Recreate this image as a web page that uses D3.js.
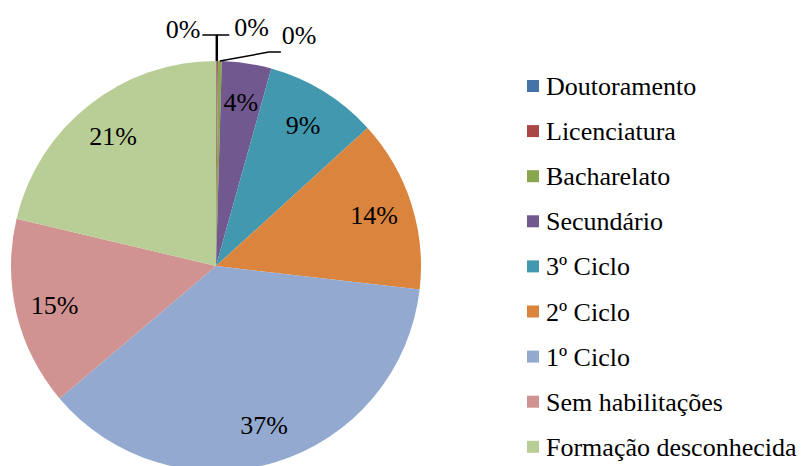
<!DOCTYPE html>
<html>
<head>
<meta charset="UTF-8">
<title>Habilitações</title>
<script src="https://d3js.org/d3.v7.min.js"></script>
</head>
<body style="margin:0">
<div id="chart"></div>
<script>
    const categories = ["Doutoramento", "Licenciatura", "Bacharelato", "Secundário",
      "3º Ciclo", "2º Ciclo", "1º Ciclo", "Sem habilitações", "Formação desconhecida"];
    const values = [0.05, 0.1, 0.3, 3.9, 8.9, 13.6, 37.0, 14.9, 21.3];
    const colors = ["#4572A7", "#AA4643", "#89A54E", "#71588F", "#4198AF",
      "#DB843D", "#93A9CF", "#D19392", "#B9CD96"];

    // leader offsets for the tiny slices (relative to the slice's outer point)
    const leaders = {
      "Doutoramento": { bx: 0, by: -26, ex: -14, tx: -16, ty: 3, anchor: "end" },
      "Licenciatura": { bx: 0, by: -26, ex: 12, tx: 17, ty: 1, anchor: "start" },
      "Bacharelato":  { bx: 49, by: -9, ex: 61, tx: 62, ty: -8, anchor: "start" }
    };

    const cx = 216, cy = 266, r = 205;
    const fam = '"Liberation Serif", "Times New Roman", serif';

    const svg = d3.select("#chart").append("svg")
      .attr("width", 806).attr("height", 466);

    const total = d3.sum(values);
    const data = categories.map((c, i) => ({ name: c, value: values[i], color: colors[i] }));

    const pie = d3.pie().sort(null).value(d => d.value);
    const arcs = pie(data);
    const arc = d3.arc().innerRadius(0).outerRadius(r);
    const labelArc = d3.arc().innerRadius(r * 0.81).outerRadius(r * 0.81);

    svg.selectAll("path.slice")
      .data(arcs)
      .enter().append("path")
      .attr("class", "slice")
      .attr("transform", `translate(${cx},${cy})`)
      .attr("d", arc)
      .attr("fill", d => d.data.color);

    const pct = d => Math.round(d.data.value / total * 100) + "%";

    // labels inside the pie
    svg.selectAll("text.in")
      .data(arcs.filter(d => !leaders[d.data.name]))
      .enter().append("text")
      .attr("class", "in")
      .attr("x", d => cx + labelArc.centroid(d)[0])
      .attr("y", d => cy + labelArc.centroid(d)[1] + 9)
      .attr("text-anchor", "middle")
      .style("font-family", fam).style("font-size", "26px")
      .text(pct);

    // leader-line labels for the near-zero slices
    arcs.filter(d => leaders[d.data.name]).forEach(d => {
      const L = leaders[d.data.name];
      const a = (d.startAngle + d.endAngle) / 2;
      const px = cx + Math.sin(a) * r, py = cy - Math.cos(a) * r;
      svg.append("path")
        .attr("d", d3.line()([[px, py], [px + L.bx, py + L.by], [px + L.ex, py + L.by]]))
        .attr("fill", "none")
        .attr("stroke", "#000")
        .attr("stroke-width", 1.5);
      svg.append("text")
        .attr("x", px + L.tx)
        .attr("y", py + L.by + L.ty)
        .attr("text-anchor", L.anchor)
        .style("font-family", fam).style("font-size", "26px")
        .text(pct(d));
    });

    // legend
    svg.selectAll("rect.key")
      .data(data)
      .enter().append("rect")
      .attr("class", "key")
      .attr("x", 527).attr("y", (d, i) => 80 + i * 45.1)
      .attr("width", 12).attr("height", 12)
      .attr("fill", d => d.color);
    svg.selectAll("text.key")
      .data(data)
      .enter().append("text")
      .attr("class", "key")
      .attr("x", 546).attr("y", (d, i) => 95 + i * 45.1)
      .style("font-family", fam).style("font-size", "26px")
      .text(d => d.name);
</script>
</body>
</html>
